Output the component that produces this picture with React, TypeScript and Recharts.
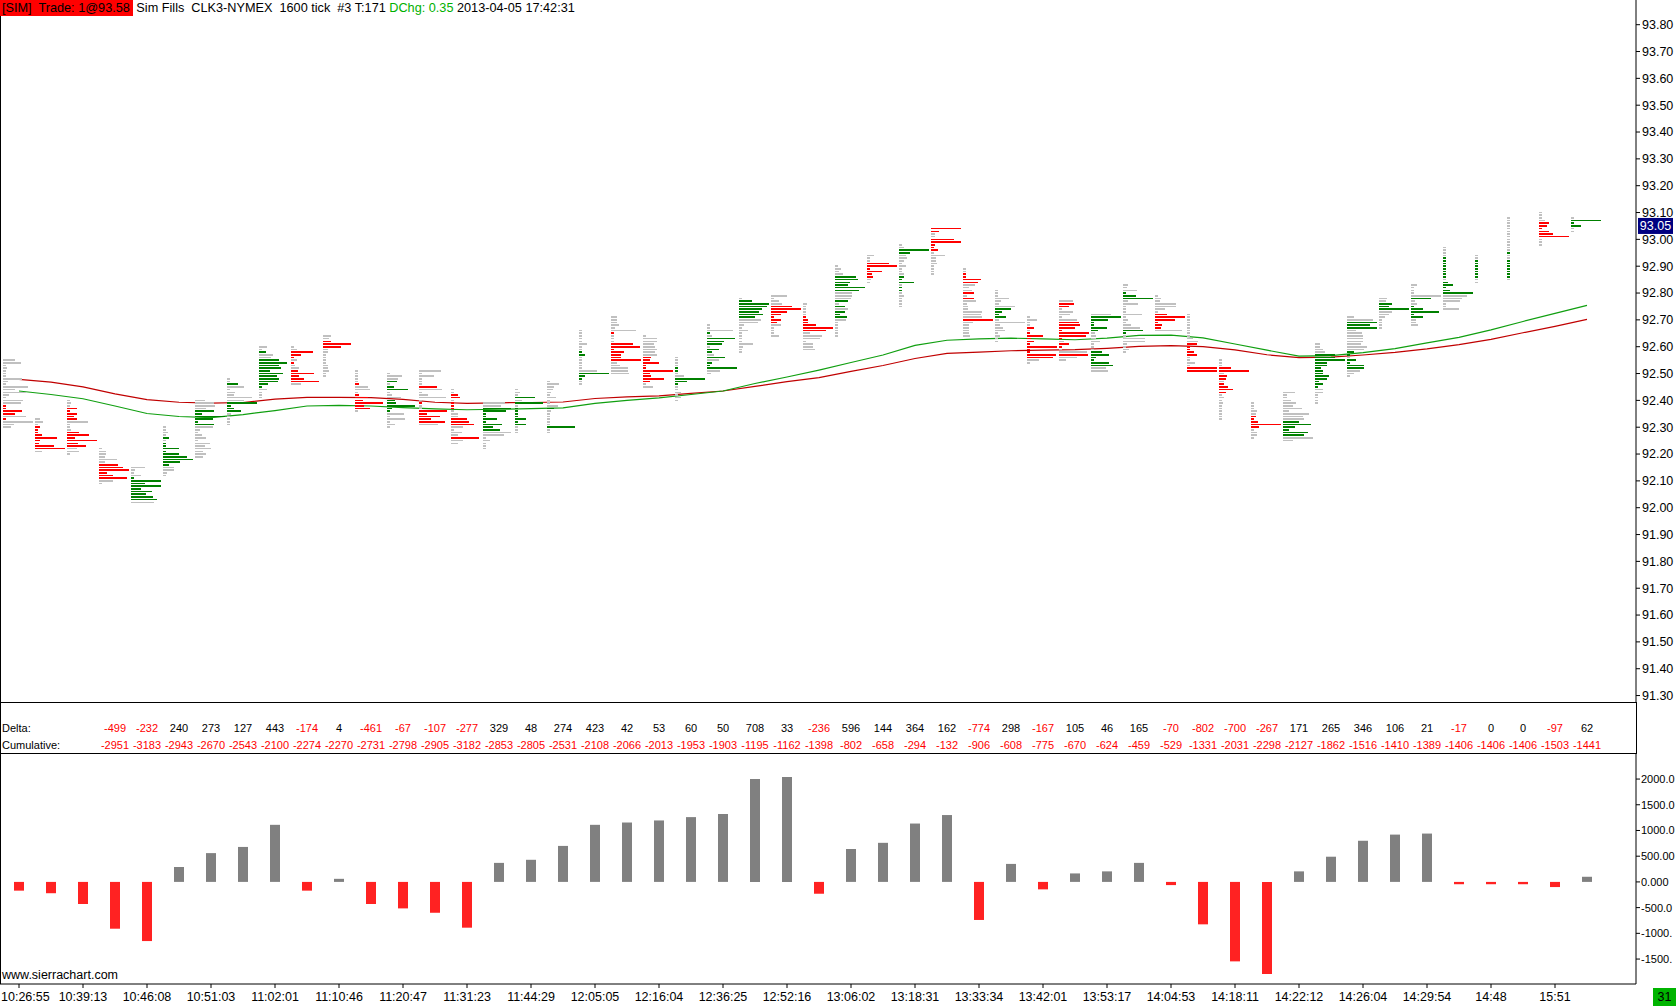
import { ComposedChart, BarChart, Bar, Cell, Line, Scatter, XAxis, YAxis, ReferenceLine } from 'recharts'

// price axis
const priceTicks = [
  91.3, 91.4, 91.5, 91.6, 91.7, 91.8, 91.9, 92.0, 92.1, 92.2, 92.3, 92.4, 92.5,
  92.6, 92.7, 92.8, 92.9, 93.0, 93.1, 93.2, 93.3, 93.4, 93.5, 93.6, 93.7, 93.8,
]
const lastPrice = 93.05

// bar times, one label per two bars
const timeLabels = [
  '10:26:55', '10:39:13', '10:46:08', '10:51:03', '11:02:01', '11:10:46', '11:20:47',
  '11:31:23', '11:44:29', '12:05:05', '12:16:04', '12:36:25', '12:52:16', '13:06:02',
  '13:18:31', '13:33:34', '13:42:01', '13:53:17', '14:04:53', '14:18:11', '14:22:12',
  '14:26:04', '14:29:54', '14:48', '15:51',
]

// delta rows (start at bar 3)
const deltaValues = [
  -499, -232, 240, 273, 127, 443, -174, 4, -461, -67, -107, -277, 329, 48, 274, 423,
  42, 53, 60, 50, 708, 33, -236, 596, 144, 364, 162, -774, 298, -167, 105, 46, 165,
  -70, -802, -700, -267, 171, 265, 346, 106, 21, -17, 0, 0, -97, 62,
]
const cumulativeValues = [
  -2951, -3183, -2943, -2670, -2543, -2100, -2274, -2270, -2731, -2798, -2905, -3182,
  -2853, -2805, -2531, -2108, -2066, -2013, -1953, -1903, -1195, -1162, -1398, -802,
  -658, -294, -132, -906, -608, -775, -670, -624, -459, -529, -1331, -2031, -2298,
  -2127, -1862, -1516, -1410, -1389, -1406, -1406, -1406, -1503, -1441,
]

// lower study
const histValues = [
  -170, -220, -430, -910, -1150, 290, 560, 680, 1110, -170, 60, -430, -515, -600, -890,
  370, 430, 700, 1110, 1155, 1195, 1260, 1320, 2000, 2040, -230, 640, 760, 1135, 1300,
  -740, 350, -145, 165, 205, 370, -62, -825, -1545, -1790, 205, 490, 800, 920, 940,
  -45, -45, -45, -100, 100,
]
const histTicks = [-1500, -1000, -500, 0, 500, 1000, 1500, 2000]
// the scale labels as far as the window shows them
const histTickLabels = ['-1500.', '-1000.', '-500.0', '0.000', '500.00', '1000.0', '1500.0', '2000.0']

// moving averages, one value per bar
const maRed = [
  92.478, 92.468, 92.45, 92.424, 92.403, 92.393, 92.39, 92.392, 92.405, 92.411,
  92.411, 92.41, 92.404, 92.393, 92.389, 92.391, 92.392, 92.394, 92.407, 92.413,
  92.417, 92.426, 92.435, 92.452, 92.47, 92.485, 92.508, 92.53, 92.556, 92.575,
  92.58, 92.585, 92.587, 92.589, 92.594, 92.601, 92.604, 92.6, 92.588, 92.57,
  92.559, 92.561, 92.569, 92.579, 92.592, 92.608, 92.627, 92.652, 92.676, 92.702,
]
const maGreen = [
  92.435, 92.422, 92.406, 92.379, 92.351, 92.34, 92.336, 92.347, 92.362, 92.379,
  92.381, 92.379, 92.373, 92.368, 92.365, 92.367, 92.369, 92.372, 92.389, 92.4,
  92.409, 92.422, 92.435, 92.463, 92.487, 92.513, 92.541, 92.569, 92.605, 92.624,
  92.629, 92.632, 92.629, 92.626, 92.632, 92.642, 92.643, 92.633, 92.61, 92.587,
  92.565, 92.567, 92.578, 92.593, 92.614, 92.635, 92.663, 92.694, 92.724, 92.754,
]

// footprint: top price of each bar, volume per tick going down, side per tick (n/r/g)
const colTops = [
  92.55, 92.33, 92.4, 92.22, 92.15, 92.3, 92.4, 92.48, 92.6, 92.6,
  92.64, 92.51, 92.5, 92.51, 92.44, 92.39, 92.44, 92.47, 92.66, 92.71,
  92.64, 92.56, 92.68, 92.78, 92.79, 92.76, 92.9, 92.94, 92.98, 93.04,
  92.89, 92.81, 92.71, 92.77, 92.72, 92.83, 92.79, 92.72, 92.55, 92.39,
  92.43, 92.61, 92.71, 92.78, 92.83, 92.97, 92.94, 93.08, 93.1, 93.08,
]
const colVols = [
  [12, 18, 3, 4, 3, 3, 3, 19, 5, 3, 25, 12, 23, 6, 3, 20, 18, 3, 3, 19, 12, 23, 3, 30, 11, 8],
  [5, 8, 3, 5, 3, 3, 7, 22, 5, 4, 19, 30, 7],
  [3, 4, 3, 10, 3, 10, 7, 10, 21, 3, 3, 4, 12, 22, 8, 30, 11, 19, 10, 12, 3],
  [3, 7, 7, 6, 18, 6, 19, 24, 30, 8, 14, 28, 14, 3],
  [14, 4, 3, 10, 3, 30, 14, 30, 10, 21, 15, 22, 26, 23],
  [3, 3, 5, 3, 6, 3, 3, 3, 16, 3, 16, 24, 30, 17, 6, 11, 11, 4, 3],
  [10, 19, 20, 11, 19, 7, 30, 18, 3, 19, 18, 5, 3, 7, 11, 3, 15, 10, 16, 8, 11, 8],
  [3, 3, 11, 17, 3, 8, 7, 25, 17, 30, 4, 7, 14, 4, 3, 3, 3, 3],
  [8, 3, 7, 14, 12, 20, 28, 20, 22, 11, 24, 18, 20, 19, 9, 3, 8, 3, 3, 3],
  [3, 6, 22, 10, 3, 6, 3, 4, 8, 7, 23, 8, 13, 28, 10],
  [8, 6, 8, 28, 18, 5, 5, 3, 3, 3, 3, 5, 5, 6, 3, 3],
  [3, 3, 3, 3, 3, 4, 13, 15, 3, 4, 13, 8, 28, 9, 15, 3],
  [3, 15, 11, 10, 3, 7, 21, 3, 5, 14, 8, 9, 28, 5, 3, 17, 3, 18, 3, 8, 3],
  [22, 3, 15, 3, 3, 3, 18, 23, 3, 9, 27, 3, 3, 3, 3, 28, 8, 21, 12, 26, 19],
  [3, 3, 7, 9, 3, 3, 3, 3, 3, 7, 7, 16, 18, 23, 12, 3, 11, 7, 28, 12, 7],
  [22, 18, 28, 23, 3, 3, 14, 3, 19, 10, 17, 28, 21, 3, 7, 3, 3, 3],
  [3, 5, 3, 20, 7, 28, 3, 3, 3, 3, 3, 11, 3, 11, 3, 3, 3],
  [3, 12, 7, 6, 4, 3, 9, 3, 3, 11, 7, 4, 3, 3, 3, 3, 3, 28, 3, 3],
  [3, 3, 3, 3, 3, 8, 3, 3, 3, 6, 3, 3, 3, 3, 3, 18, 30, 6, 3, 3, 3],
  [6, 6, 6, 8, 4, 25, 3, 3, 3, 3, 22, 29, 3, 13, 10, 10, 30, 6, 9, 17, 17, 18],
  [3, 14, 14, 11, 12, 14, 12, 14, 8, 7, 16, 3, 3, 30, 7, 8, 21, 7, 3, 10],
  [3, 3, 3, 3, 3, 3, 3, 9, 30, 12, 3, 3, 3, 6, 3, 6, 3],
  [3, 3, 26, 3, 5, 28, 17, 15, 3, 12, 5, 7, 18, 12, 5, 3, 30, 13, 4],
  [3, 13, 30, 28, 23, 20, 24, 16, 22, 19, 5, 3, 9, 3, 3, 3, 3, 14, 4, 3, 3],
  [16, 3, 8, 11, 21, 30, 16, 10, 3, 10, 6, 10, 3, 3, 3, 8],
  [4, 3, 3, 3, 3, 3, 5, 5, 13, 30, 23, 7, 19, 17, 3, 10, 10, 12],
  [3, 6, 4, 8, 21, 23, 15, 13, 30, 24, 17, 17, 16, 13, 4, 10, 13, 10, 5, 12, 11, 3, 3, 3, 3, 3, 3],
  [7, 3, 3, 22, 30, 3, 15, 5, 6, 4, 3],
  [3, 5, 30, 11, 7, 8, 5, 3, 7, 3, 3, 5, 5, 3, 15, 3, 3, 3, 3, 5, 3, 3, 3, 3],
  [30, 8, 4, 4, 23, 30, 4, 3, 7, 3, 14, 5, 5, 6, 3, 3, 3, 3],
  [3, 3, 3, 3, 18, 15, 12, 6, 9, 11, 4, 11, 13, 4, 5, 5, 19, 18, 19, 30, 10, 6, 6, 6, 6, 7],
  [3, 3, 3, 14, 6, 4, 20, 16, 7, 4, 11, 4, 30, 5, 8, 10, 3, 5, 3, 3],
  [3, 10, 3, 3, 7, 3, 3, 16, 4, 7, 3, 30, 3, 3, 29, 26, 12, 3],
  [14, 15, 10, 3, 14, 11, 3, 18, 20, 21, 16, 3, 30, 27, 3, 5, 10, 3, 3, 28, 29, 18, 7],
  [20, 30, 17, 3, 3, 16, 7, 4, 5, 5, 9, 3, 3, 3, 11, 18, 5, 3, 18, 22, 15, 17],
  [5, 4, 14, 3, 13, 30, 5, 15, 3, 3, 3, 19, 3, 5, 3, 8, 17, 20, 3, 3, 22, 22, 4, 3, 6, 3],
  [3, 6, 5, 21, 21, 10, 3, 12, 30, 20, 3, 7, 6, 27],
  [3, 3, 3, 3, 3, 3, 3, 3, 3, 6, 11, 10, 3, 3, 7, 10, 3, 3, 8, 3, 30, 30],
  [3, 3, 3, 12, 30, 5, 8, 7, 5, 5, 9, 14, 7, 3, 5, 3, 4, 3, 3, 3, 3, 3, 3],
  [3, 3, 3, 6, 5, 5, 3, 7, 30, 8, 3, 6, 6, 3],
  [12, 4, 4, 8, 13, 10, 19, 6, 26, 20, 21, 16, 28, 12, 6, 25, 21, 30, 10],
  [5, 5, 8, 10, 20, 20, 30, 12, 12, 6, 8, 8, 14, 12, 4, 8, 3, 8, 8, 3, 3, 3, 3],
  [7, 26, 30, 23, 30, 9, 15, 16, 16, 16, 14, 20, 17, 7, 3, 3, 9, 3, 17, 17, 13, 7, 3],
  [8, 7, 13, 10, 30, 13, 10, 6, 3, 3, 3, 3],
  [6, 3, 3, 3, 30, 20, 4, 6, 3, 12, 28, 3, 12, 5, 5, 7],
  [3, 3, 3, 3, 3, 3, 3, 3, 3, 3, 3, 3, 3, 5, 10, 3, 7, 30, 24, 19, 17, 3, 3, 16],
  [3, 3, 3, 3, 3, 3, 3, 3, 3, 3, 3],
  [3, 3, 3, 3, 3, 3, 3, 3, 3, 3, 3, 3, 3, 3, 3, 3, 3, 3, 3, 3, 3, 3, 3, 3],
  [3, 3, 3, 6, 10, 8, 3, 10, 14, 30, 3, 3, 3],
  [3, 30, 3, 10, 3, 3],
]
const colSides = [
  'nnnnnnnnnnnnnnnnnrrrrnrnnn', 'nnnrrrrrrrrrn', 'nnnrrrrrnnnnrrrrrrnnn', 'nnnnnnrrrrrrnn',
  'nnnngggggggggn', 'nnnngngggggggggnnnn', 'nnnnggggggnnnnnnnnnnnn', 'nngnnnnnnggggnnnnn',
  'nngnngggggggggggnnnn', 'nnrrrnrnnrrrrrn', 'nnrrrnnnnnnnnnnn', 'nnnnnrnnnrrrrrrn',
  'nnngnggnnngggggnnnnnn', 'nnnnnnrnnnnnrnnrrrrrn', 'nnrrnrrrnnnrrrnnnnrnn', 'nngggggggggnnnnnnn',
  'nnngngngggggggnnn', 'nnnnnnnnnngnnnnnngnn', 'nnnnnnnnggnnnnnngggnn', 'nnnnnnrnnnrrrrrrrnnnnn',
  'nnnnnnnnrrrrrrrrrrnn', 'nnnnggnngggnnnnnn', 'nnngngggnggngngggnn', 'ngggggggnnnnnnnnnnnnn',
  'nnnnrrrrrrrnnnnn', 'nnnnnrrrrrrnnnnnnn', 'nnnnggggggnnngngngggnnnnnnn', 'nnnrrrrrrnn',
  'nnggnnnnnnnngggnggnnnnnn', 'rrnnrrrrrnnnnnnnnn', 'nnrrrrnnnrnrnnnnnnnrnnnnnn', 'nnnnnnnggggnnnnnnnnn',
  'nnnnrnrrrrrrrrrrnn', 'nrrnnnnnrrrrrrrnrrnnrnn', 'nggggggnnnnnnnggggggnn', 'nnngggnnnnnnnnnnnggnnnnnnn',
  'nnnnnnnrrrrrrn', 'nnnnnnnnnnnrrrrrnnnnrr', 'nnnrrnrrnrrrrnnnnnnnnnn', 'nnnnnrrrrrnnnn',
  'nnnnnnnnnnnggggggnn', 'nnnngggggggggggggnnnnnn', 'nngggnnnnnnnnggnggggnnn', 'nngggnnnnnnn',
  'nnnnngnngggggnnn', 'nnnnggggggggngggggnnnnnn', 'nngggggggnn', 'nnnnnnnnnnnnngnngggggggn',
  'nnnnrrrrrrnnn', 'ngggnn',
]

const FONT = '"Liberation Sans", Arial, sans-serif'
const X_DOMAIN: [number, number] = [-0.59375, 50.53125]
const sideColor: Record<string, string> = { n: '#c0c0c0', r: '#ff0000', g: '#008000' }

const maRows = maRed.map((v, i) => ({ x: i, red: v, green: maGreen[i] }))
const footprint = colTops.flatMap((top, i) =>
  colVols[i].map((vol, k) => ({ x: i, y: Math.round(top * 100 - k) / 100, vol, side: colSides[i][k] }))
)
const histRows = histValues.map((v, i) => ({ i, v }))
const deltaCols = deltaValues.map((_, k) => k + 3)
const timeTicks = timeLabels.map((_, k) => k * 2)

function FootBar(props: any) {
  const { cx, cy, payload } = props
  if (cx == null || cy == null) return null
  return (
    <rect
      x={cx - 16}
      y={cy - 0.8}
      width={payload.vol}
      height={1.6}
      fill={sideColor[payload.side]}
      shapeRendering="crispEdges"
    />
  )
}

function PriceTag(props: any) {
  const vb = props.viewBox
  if (!vb) return null
  const x = vb.x + vb.width + 2
  return (
    <g>
      <rect x={x} y={vb.y - 8} width={35} height={16} fill="#000080" />
      <text x={x + 17.5} y={vb.y + 4.5} textAnchor="middle" fontSize={12.5} fill="#fff" fontFamily={FONT}>
        {lastPrice.toFixed(2)}
      </text>
    </g>
  )
}

function DeltaTick(props: any) {
  const { x, payload } = props
  const k = payload.value - 3
  const d = deltaValues[k]
  const c = cumulativeValues[k]
  return (
    <g fontSize={11} fontFamily={FONT} textAnchor="middle">
      <text x={x} y={30} fill={d < 0 ? '#ff0000' : '#000'}>{d}</text>
      <text x={x} y={47} fill={c < 0 ? '#ff0000' : '#000'}>{c}</text>
    </g>
  )
}

// time labels; the first one sits against the left edge
function TimeTick(props: any) {
  const { x, y, payload } = props
  const first = payload.value === 0
  return (
    <text
      x={first ? 1 : x}
      y={y + 12}
      textAnchor={first ? 'start' : 'middle'}
      fontSize={12.5}
      fontFamily={FONT}
      fill="#000"
    >
      {timeLabels[payload.value / 2]}
    </text>
  )
}

const line = (s: any) => ({ position: 'absolute' as const, background: '#000', ...s })

export default function App() {
  return (
    <div
      style={{
        position: 'absolute', left: 0, top: 0, width: 1676, height: 1006,
        background: '#fff', overflow: 'hidden', fontFamily: FONT, color: '#000',
      }}
    >
      <div style={{ position: 'absolute', left: 0, top: 0 }}>
        <ComposedChart width={1676} height={702} data={maRows} margin={{ top: 0, right: 0, bottom: 0, left: 0 }}>
          <XAxis type="number" dataKey="x" domain={X_DOMAIN} allowDataOverflow hide />
          <YAxis
            orientation="right"
            width={40}
            domain={[91.276, 93.892]}
            allowDataOverflow
            ticks={priceTicks}
            interval={0}
            tickFormatter={(v: number) => v.toFixed(2)}
            tick={{ fill: '#000', fontSize: 12.5 }}
            tickSize={4}
            tickMargin={2}
            axisLine={{ stroke: '#000' }}
            tickLine={{ stroke: '#000' }}
          />
          <Line type="linear" dataKey="red" stroke="#c00000" strokeWidth={1.2} dot={false} isAnimationActive={false} />
          <Line type="linear" dataKey="green" stroke="#109f10" strokeWidth={1.2} dot={false} isAnimationActive={false} />
          <Scatter data={footprint} dataKey="y" shape={FootBar} isAnimationActive={false} />
          <ReferenceLine y={lastPrice} stroke="none" label={<PriceTag />} />
        </ComposedChart>
      </div>

      <div style={{ position: 'absolute', left: 0, top: 702 }}>
        <BarChart width={1676} height={304} data={histRows} margin={{ top: 0, right: 0, bottom: 0, left: 0 }}>
          <XAxis
            xAxisId="top"
            orientation="top"
            type="number"
            dataKey="i"
            domain={X_DOMAIN}
            allowDataOverflow
            height={52}
            ticks={deltaCols}
            interval={0}
            axisLine={false}
            tickLine={false}
            tick={<DeltaTick />}
          />
          <XAxis
            type="number"
            dataKey="i"
            domain={X_DOMAIN}
            allowDataOverflow
            height={22}
            ticks={timeTicks}
            interval={0}
            tick={<TimeTick />}
            tickSize={4}
            tickMargin={1}
            axisLine={{ stroke: '#000' }}
            tickLine={{ stroke: '#000' }}
          />
          <YAxis
            orientation="right"
            width={40}
            domain={[-1985, 2487]}
            allowDataOverflow
            ticks={histTicks}
            interval={0}
            tickFormatter={(v: number) => histTickLabels[histTicks.indexOf(v)]}
            tick={{ fill: '#000', fontSize: 11 }}
            tickSize={4}
            tickMargin={1}
            axisLine={{ stroke: '#000' }}
            tickLine={{ stroke: '#000' }}
          />
          <Bar dataKey="v" barSize={10} isAnimationActive={false}>
            {histRows.map((r) => (
              <Cell key={r.i} fill={r.v < 0 ? '#ff2222' : '#808080'} />
            ))}
          </Bar>
        </BarChart>
      </div>

      {/* frame lines */}
      <div style={line({ left: 0, top: 0, width: 1, height: 984 })} />
      <div style={line({ left: 0, top: 702, width: 1636, height: 1 })} />
      <div style={line({ left: 0, top: 753, width: 1636, height: 1 })} />
      <div style={line({ left: 1636, top: 702, width: 1, height: 52 })} />

      {/* header */}
      <div style={{ position: 'absolute', left: 0, top: 0, height: 17, lineHeight: '17px', fontSize: 12.7, whiteSpace: 'pre' }}>
        <span style={{ background: '#ff0000', padding: '1px 3px 1px 2px' }}>[SIM]  Trade: 1@93.58</span>
        <span> Sim Fills  CLK3-NYMEX  1600 tick  #3 T:171 </span>
        <span style={{ color: '#00b000' }}>DChg: 0.35</span>
        <span> 2013-04-05 17:42:31</span>
      </div>

      <div style={{ position: 'absolute', left: 2, top: 721, fontSize: 11, lineHeight: '14px' }}>Delta:</div>
      <div style={{ position: 'absolute', left: 2, top: 738, fontSize: 11, lineHeight: '14px' }}>Cumulative:</div>
      <div style={{ position: 'absolute', left: 2, top: 968, fontSize: 12.5, lineHeight: '15px' }}>www.sierrachart.com</div>
      <div
        style={{
          position: 'absolute', left: 1653, top: 988, width: 23, height: 18,
          background: '#00b400', fontSize: 12.5, lineHeight: '18px', textAlign: 'center',
        }}
      >
        31
      </div>
    </div>
  )
}
